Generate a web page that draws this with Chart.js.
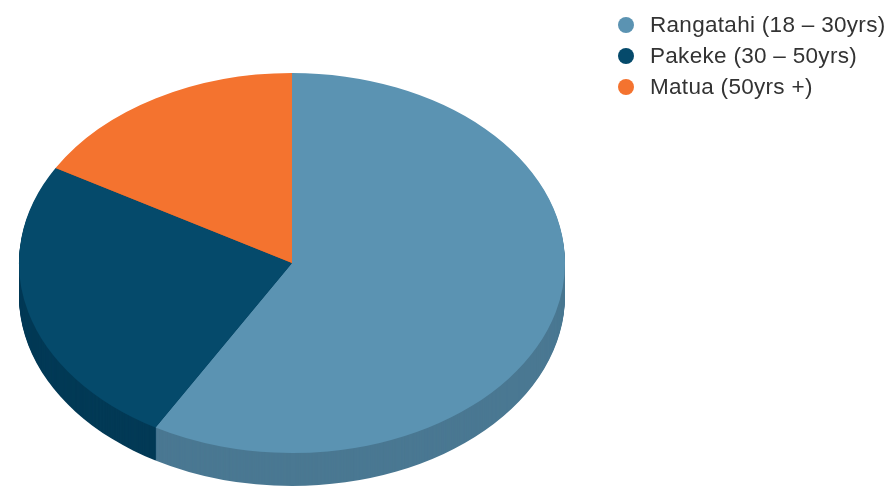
<!DOCTYPE html>
<html lang="en">
<head>
<meta charset="UTF-8">
<title>Age groups</title>
<style>
  html, body { margin: 0; padding: 0; background: #fff; }
  body {
    width: 889px; height: 491px; position: relative; overflow: hidden;
    font-family: Arial, "Liberation Sans", sans-serif;
  }
  #pie { position: absolute; left: 0; top: 0; }
  .legend { position: absolute; left: 618px; top: 9px; margin: 0; padding: 0; list-style: none; }
  .legend li {
    position: relative; height: 31px; line-height: 31px; padding-left: 32px;
    font-size: 22.5px; letter-spacing: 0.3px; color: #333; white-space: nowrap;
  }
  .legend li span {
    position: absolute; left: 0; top: 8px; width: 16px; height: 16px; border-radius: 50%;
  }
</style>
<script src="https://cdn.jsdelivr.net/npm/chart.js"></script>
</head>
<body>
<canvas id="pie" width="889" height="491"></canvas>
<ul class="legend" id="legend"></ul>
<script>
const labels = ['Rangatahi (18 – 30yrs)', 'Pakeke (30 – 50yrs)', 'Matua (50yrs +)'];
const values = [35, 15, 10];
const topColours = ['#5b93b2', '#054a6b', '#f4732f'];
const sideColours = ['#4a7892', '#033a56', '#c95a22'];

const tilt = 0.696;  // vertical squash of the pie face
const depth = 33;    // thickness of the pie, px

// fake 3D: stacked darker copies underneath, then the face squashed
const pie3d = {
    id: 'pie3d',
    beforeDatasetsDraw(chart) {
        const ctx = chart.ctx;
        const arcs = chart.getDatasetMeta(0).data;
        for (let d = depth; d > 0; d--) {
            arcs.forEach((arc, i) => {
                ctx.save();
                ctx.translate(arc.x, arc.y + d);
                ctx.scale(1, tilt);
                ctx.beginPath();
                ctx.moveTo(0, 0);
                ctx.arc(0, 0, arc.outerRadius, arc.startAngle, arc.endAngle);
                ctx.closePath();
                ctx.fillStyle = sideColours[i];
                ctx.fill();
                ctx.restore();
            });
        }
        const cx = arcs[0].x, cy = arcs[0].y;
        ctx.save();
        ctx.translate(cx, cy);
        ctx.scale(1, tilt);
        ctx.translate(-cx, -cy);
    },
    afterDatasetsDraw(chart) {
        chart.ctx.restore();
    }
};

new Chart(document.getElementById('pie'), {
    type: 'pie',
    data: {
        labels: labels,
        datasets: [{
            data: values,
            backgroundColor: topColours,
            borderWidth: 0,
            radius: 273,
            clip: false
        }]
    },
    options: {
        responsive: false,
        animation: false,
        events: [],
        layout: { padding: { left: 0, right: 305, top: 35, bottom: 0 } },
        plugins: {
            legend: { display: false },
            tooltip: { enabled: false }
        }
    },
    plugins: [pie3d]
});

// legend
const legend = document.getElementById('legend');
labels.forEach((label, i) => {
    const li = document.createElement('li');
    li.innerHTML = `<span style="background:${topColours[i]}"></span>${label}`;
    legend.appendChild(li);
});
</script>
</body>
</html>
